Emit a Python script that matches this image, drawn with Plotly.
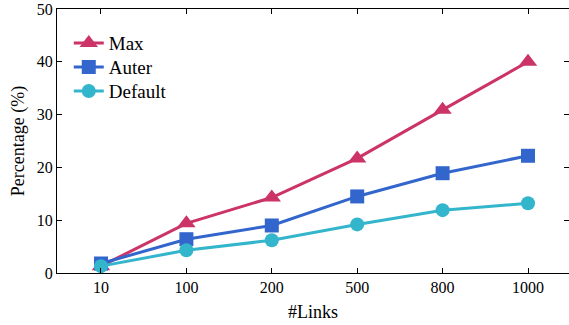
import plotly.graph_objects as go

categories = ["10", "100", "200", "500", "800", "1000"]
max_vals = [1.3, 9.4, 14.3, 21.7, 30.9, 40.0]
auter_vals = [1.8, 6.4, 9.0, 14.5, 18.9, 22.2]
default_vals = [1.3, 4.3, 6.2, 9.2, 11.9, 13.2]
yticks = [0, 10, 20, 30, 40, 50]

xs = list(range(len(categories)))
FONT = "Liberation Serif"

fig = go.Figure()
series = [
    ("Max", max_vals, "#CC3366", "triangle-up", 16, "legend"),
    ("Auter", auter_vals, "#3366CC", "square", 14, "legend2"),
    ("Default", default_vals, "#33B5CC", "circle", 14, "legend3"),
]
for name, vals, color, sym, size, lg in series:
    fig.add_trace(go.Scatter(
        x=xs, y=vals, name=name, mode="lines+markers",
        line=dict(color=color, width=3),
        marker=dict(symbol=sym, size=size, color=color),
        legend=lg,
    ))

# invisible trace on right y axis for mirrored ticks without a line
fig.add_trace(go.Scatter(x=[xs[0]], y=[0], yaxis="y2", showlegend=False,
                         mode="markers", marker=dict(opacity=0), hoverinfo="skip"))

def leg(yv):
    return dict(x=0.023, y=yv, xanchor="left", yanchor="middle",
                bgcolor="rgba(0,0,0,0)", font=dict(size=19, family=FONT),
                itemwidth=30)

fig.update_layout(
    width=569, height=325,
    margin=dict(l=57, r=0, t=9, b=52),
    plot_bgcolor="white", paper_bgcolor="white",
    font=dict(family=FONT, size=16, color="black"),
    showlegend=True,
    legend=leg(0.871), legend2=leg(0.780), legend3=leg(0.689),
    xaxis=dict(
        tickmode="array", tickvals=xs, ticktext=categories,
        range=[-0.515, 5.48], showgrid=False, zeroline=False,
        showline=True, linecolor="black", linewidth=1.3, mirror="ticks",
        ticks="inside", ticklen=5, tickcolor="black", tickwidth=1,
        tickfont=dict(size=16, family=FONT),
        title=dict(text="#Links", font=dict(size=18, family=FONT), standoff=10),
    ),
    yaxis=dict(
        tickmode="array", tickvals=yticks, range=[0, 50],
        showgrid=False, zeroline=False,
        showline=True, linecolor="black", linewidth=1.3,
        ticks="inside", ticklen=5, tickcolor="black", tickwidth=1,
        tickfont=dict(size=16, family=FONT),
        title=dict(text="Percentage (%)", font=dict(size=18, family=FONT), standoff=7),
    ),
    yaxis2=dict(
        overlaying="y", side="right", range=[0, 50], tickmode="array",
        tickvals=yticks, showticklabels=False, showgrid=False, zeroline=False,
        showline=False, ticks="inside", ticklen=5, tickcolor="black", tickwidth=1,
    ),
)

fig.write_html("out.html")
